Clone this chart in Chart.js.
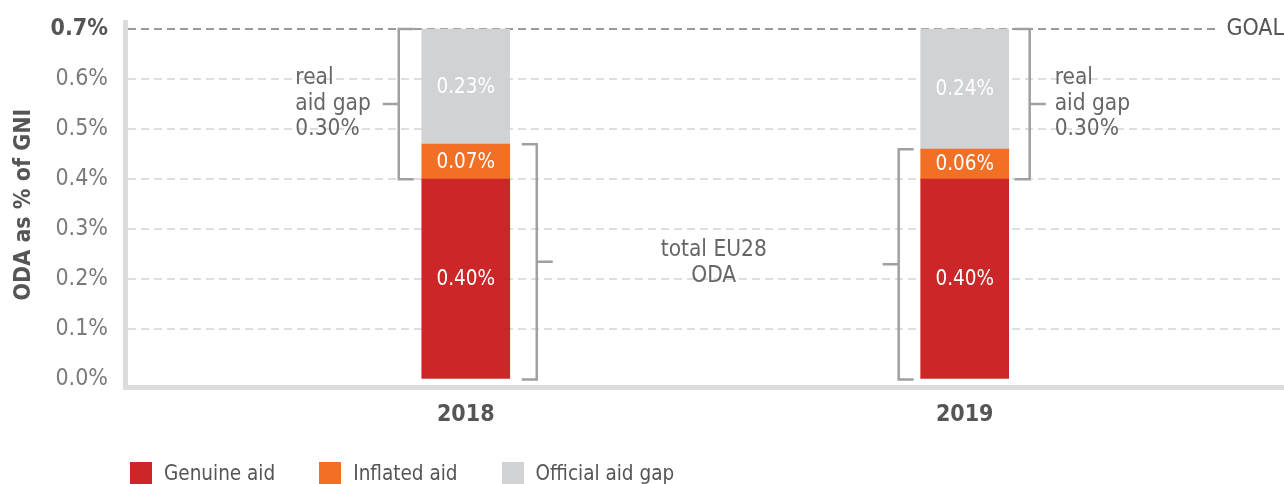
<!DOCTYPE html>
<html>
<head>
<meta charset="utf-8">
<script src="https://cdn.jsdelivr.net/npm/chart.js@4"></script>
<style>
  html, body { margin: 0; padding: 0; background: #fff; }
  #wrap { position: relative; width: 1284px; height: 484px; overflow: hidden; }
  #legend { position: absolute; left: 130px; top: 462px; display: flex; gap: 44px;
    font: 20.5px "Liberation Sans Narrow", "DejaVu Sans Condensed", sans-serif; color: #555; line-height: 22px; }
  #legend .item { display: flex; align-items: center; }
  #legend .swatch { width: 22px; height: 22px; margin-right: 12px; }
</style>
</head>
<body>
<div id="wrap">
  <canvas id="odaChart"></canvas>
  <div id="legend"></div>
</div>
<script>
const FONT = '"Liberation Sans Narrow", "DejaVu Sans Condensed", "Liberation Sans", sans-serif';

// data
const years = [2018, 2019];
const genuineAid = [0.40, 0.40];
const inflatedAid = [0.07, 0.06];
const officialGap = [0.23, 0.24];
const realGap = [0.30, 0.30];
const yTicks = [0, 0.1, 0.2, 0.3, 0.4, 0.5, 0.6, 0.7];
const goal = 0.7;

const seriesNames = ['Genuine aid', 'Inflated aid', 'Official aid gap'];
const seriesValues = [genuineAid, inflatedAid, officialGap];
const seriesColors = ['#cc2728', '#f26f26', '#d1d2d4'];

// which side of each bar the brackets go
const gapSide = ['left', 'right'];
const totalSide = ['right', 'left'];
const totalLabel = ['total EU28', 'ODA'];

const pct = v => v.toFixed(2) + '%';

// white value labels inside each stacked segment
const barLabels = {
  id: 'barLabels',
  afterDatasetsDraw(chart) {
    const ctx = chart.ctx;
    ctx.save();
    ctx.font = '20.5px ' + FONT;
    ctx.fillStyle = '#fff';
    ctx.textAlign = 'center';
    ctx.textBaseline = 'middle';
    chart.data.datasets.forEach((ds, di) => {
      chart.getDatasetMeta(di).data.forEach((bar, i) => {
        ctx.fillText(pct(ds.data[i]), bar.x, (bar.y + bar.base) / 2 + 1);
      });
    });
    ctx.restore();
  }
};

function drawBracket(ctx, xv, yTop, yBot, dir) {
  ctx.beginPath();
  ctx.moveTo(xv + dir * 15, yTop);
  ctx.lineTo(xv, yTop);
  ctx.lineTo(xv, yBot);
  ctx.lineTo(xv + dir * 15, yBot);
  const ym = (yTop + yBot) / 2;
  ctx.moveTo(xv, ym);
  ctx.lineTo(xv - dir * 16, ym);
  ctx.stroke();
  return { x: xv - dir * 16, y: ym };
}

// brackets for "real aid gap" and "total EU28 ODA", plus the GOAL tag
const brackets = {
  id: 'brackets',
  afterDraw(chart) {
    const ctx = chart.ctx;
    const y = chart.scales.y;
    const bars = chart.getDatasetMeta(0).data;
    ctx.save();
    ctx.strokeStyle = '#a0a0a2';
    ctx.lineWidth = 2.5;
    ctx.font = '22.5px ' + FONT;
    ctx.fillStyle = '#666';
    ctx.textBaseline = 'middle';
    const totalEnds = [];
    years.forEach((yr, i) => {
      const left = bars[i].x - bars[i].width / 2;
      const right = bars[i].x + bars[i].width / 2;
      const total = genuineAid[i] + inflatedAid[i];
      const top = total + officialGap[i];

      // real aid gap
      const gs = gapSide[i] === 'left';
      const g = drawBracket(ctx, gs ? left - 23 : right + 21,
        y.getPixelForValue(top), y.getPixelForValue(genuineAid[i]), gs ? 1 : -1);
      const lines = ['real', 'aid gap', pct(realGap[i])];
      const w = Math.max(...lines.map(t => ctx.measureText(t).width));
      const tx = gs ? g.x - 12 - w : g.x + 9;
      ctx.textAlign = 'left';
      lines.forEach((t, k) => ctx.fillText(t, tx, g.y + (k - 1) * 25.5));

      // total ODA
      const ts = totalSide[i] === 'left';
      totalEnds.push(drawBracket(ctx, ts ? left - 22 : right + 27,
        y.getPixelForValue(total), y.getPixelForValue(0), ts ? 1 : -1));
    });
    const cx = (totalEnds[0].x + totalEnds[1].x) / 2 - 4;
    const cy = (totalEnds[0].y + totalEnds[1].y) / 2;
    ctx.textAlign = 'center';
    totalLabel.forEach((t, k) => ctx.fillText(t, cx, cy + (k - 0.5) * 26));

    // GOAL tag at the end of the goal line
    const gy = y.getPixelForValue(goal);
    ctx.font = '23px ' + FONT;
    ctx.fillStyle = '#fff';
    ctx.fillRect(chart.width - 67, gy - 14, 67, 28);
    ctx.fillStyle = '#555';
    ctx.textAlign = 'right';
    ctx.fillText('GOAL', chart.width, gy);
    ctx.restore();
  }
};

const chart = new Chart(document.getElementById('odaChart'), {
  type: 'bar',
  data: {
    labels: years,
    datasets: seriesNames.map((name, i) => ({
      label: name,
      data: seriesValues[i],
      backgroundColor: seriesColors[i],
      barThickness: 88
    }))
  },
  options: {
    responsive: true,
    maintainAspectRatio: false,
    animation: false,
    layout: { padding: { top: 22, right: 0, bottom: 41, left: 0 } },
    plugins: {
      legend: { display: false },
      tooltip: { enabled: false }
    },
    scales: {
      x: {
        type: 'linear',
        stacked: true,
        offset: false,
        min: 2017.317,
        max: 2019.64,
        afterBuildTicks: s => { s.ticks = years.map(v => ({ value: v })); },
        afterFit: s => { s.paddingLeft = 0; s.paddingRight = 0; },
        ticks: {
          callback: v => String(v),
          font: { family: FONT, size: 23, weight: 'bold' },
          color: '#555',
          padding: 14,
          maxRotation: 0
        },
        grid: { display: false, drawTicks: false },
        border: { display: true, color: '#dcdcdd', width: 5 }
      },
      y: {
        stacked: true,
        min: -0.016,
        max: 0.714,
        afterBuildTicks: s => { s.ticks = yTicks.map(v => ({ value: v })); },
        afterFit: s => { s.width = 125; s.paddingTop = 0; s.paddingBottom = 0; },
        ticks: {
          callback: v => v.toFixed(1) + '%',
          font: ctx => ({ family: FONT, size: 23, weight: ctx.tick && ctx.tick.value === goal ? 'bold' : 'normal' }),
          color: ctx => ctx.tick && ctx.tick.value === goal ? '#555' : '#7a7a7a',
          padding: 17
        },
        grid: {
          drawTicks: false,
          lineWidth: 2,
          color: ctx => {
            if (!ctx.tick) return '#dedede';
            if (ctx.tick.value === goal) return '#9a9a9c';
            if (ctx.tick.value === 0) return 'rgba(0,0,0,0)';
            return '#dedede';
          }
        },
        border: { display: true, color: '#dcdcdd', width: 5, dash: [8, 5] },
        title: {
          display: true,
          text: 'ODA as % of GNI',
          font: { family: FONT, size: 23, weight: 'bold' },
          color: '#555',
          padding: { top: 10, bottom: 0 }
        }
      }
    }
  },
  plugins: [barLabels, brackets]
});

// legend as html under the chart
const legend = document.getElementById('legend');
chart.data.datasets.forEach(ds => {
  const item = document.createElement('div');
  item.className = 'item';
  const sw = document.createElement('span');
  sw.className = 'swatch';
  sw.style.background = ds.backgroundColor;
  const txt = document.createElement('span');
  txt.textContent = ds.label;
  item.appendChild(sw);
  item.appendChild(txt);
  legend.appendChild(item);
});
</script>
</body>
</html>
